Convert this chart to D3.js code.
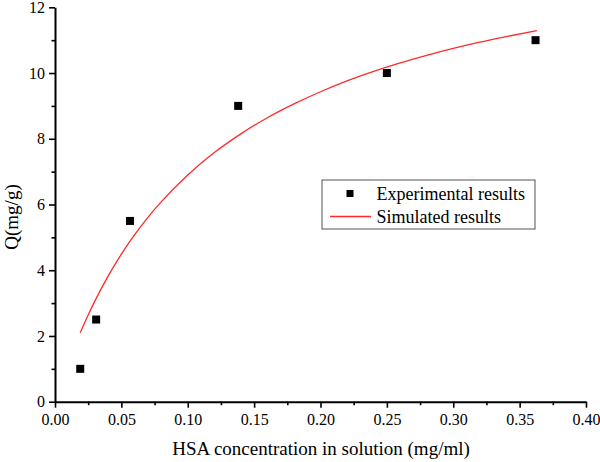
<!DOCTYPE html>
<html><head><meta charset="utf-8">
<script src="https://cdn.jsdelivr.net/npm/d3@7"></script>
<style>body{margin:0;background:#fff}svg{display:block}</style>
</head><body>
<svg id="c" width="600" height="462"></svg>
<script>
// Data
const expX = [0.019, 0.031, 0.0565, 0.138, 0.250, 0.362];
const expY = [1.0, 2.5, 5.5, 9.0, 10.0, 11.0];
const simX = [0.019, 0.025, 0.030, 0.040, 0.050, 0.060, 0.070, 0.080, 0.100, 0.120, 0.140, 0.160, 0.180, 0.200, 0.220, 0.240, 0.260, 0.280, 0.300, 0.320, 0.340, 0.363];
const simY = [2.10, 2.64, 3.06, 3.82, 4.49, 5.08, 5.61, 6.08, 6.90, 7.58, 8.15, 8.64, 9.06, 9.43, 9.76, 10.05, 10.31, 10.54, 10.75, 10.94, 11.11, 11.29];
const xTicks = [0, 0.05, 0.10, 0.15, 0.20, 0.25, 0.30, 0.35, 0.40];
const xMinor = [0.025, 0.075, 0.125, 0.175, 0.225, 0.275, 0.325, 0.375];
const yTicks = [0, 2, 4, 6, 8, 10, 12];
const yMinor = [1, 3, 5, 7, 9, 11];
const legendLabels = ["Experimental results", "Simulated results"];
const xTitle = "HSA concentration in solution (mg/ml)";
const yTitle = "Q(mg/g)";

const svg = d3.select("#c");
const font = "'Liberation Serif','Times New Roman',serif";
const L = 55, R = 586, T = 7.3, B = 401.7;
const x = d3.scaleLinear().domain([0, 0.40]).range([L, R]);
const y = d3.scaleLinear().domain([0, 12]).range([B, T]);

function styleAxis(g) {
  g.attr("font-family", null).attr("font-size", null);
  g.select(".domain").attr("stroke-width", 2).attr("stroke", "#000");
  g.selectAll(".tick line").attr("stroke-width", 1.6).attr("stroke", "#000");
  g.selectAll("text").style("font-family", font).style("font-size", "16px").attr("fill", "#000");
}

// x axis
const gx = svg.append("g").attr("transform", `translate(0,${B})`)
  .call(d3.axisBottom(x).tickValues(xTicks).tickFormat(d3.format(".2f")).tickSize(6).tickPadding(6).tickSizeOuter(0));
styleAxis(gx);
const gxm = svg.append("g").attr("transform", `translate(0,${B})`)
  .call(d3.axisBottom(x).tickValues(xMinor).tickFormat("").tickSize(3.5).tickSizeOuter(0));
gxm.select(".domain").remove();
gxm.selectAll(".tick line").attr("stroke-width", 1.6).attr("stroke", "#000");

// y axis
const gy = svg.append("g").attr("transform", `translate(${L},0)`)
  .call(d3.axisLeft(y).tickValues(yTicks).tickSize(6).tickPadding(4).tickSizeOuter(0));
styleAxis(gy);
const gym = svg.append("g").attr("transform", `translate(${L},0)`)
  .call(d3.axisLeft(y).tickValues(yMinor).tickFormat("").tickSize(3.5).tickSizeOuter(0));
gym.select(".domain").remove();
gym.selectAll(".tick line").attr("stroke-width", 1.6).attr("stroke", "#000");

// curve
const line = d3.line().x((d,i)=>x(simX[i])).y((d,i)=>y(simY[i])).curve(d3.curveMonotoneX);
svg.append("path").datum(simY).attr("d", line).attr("fill","none").attr("stroke","#ff2a2a").attr("stroke-width",1.3);

// points
const ms = 8;
svg.append("g").selectAll("rect").data(expY).join("rect")
  .attr("x",(d,i)=>x(expX[i])-ms/2).attr("y",d=>y(d)-ms/2)
  .attr("width",ms).attr("height",ms).attr("fill","#000");

// titles
svg.append("text").attr("x", 321).attr("y", 455).attr("text-anchor","middle")
  .style("font-family", font).style("font-size", "19px").text(xTitle);
svg.append("text").attr("transform","translate(18,217) rotate(-90)").attr("text-anchor","middle")
  .style("font-family", font).style("font-size", "19px").text(yTitle);

// legend
const lg = svg.append("g");
lg.append("rect").attr("x",322).attr("y",180).attr("width",213).attr("height",49)
  .attr("fill","#fff").attr("stroke","#555").attr("stroke-width",1);
lg.append("rect").attr("x",350-3.5).attr("y",193.5-3.5).attr("width",7).attr("height",7).attr("fill","#000");
lg.append("line").attr("x1",330).attr("x2",371).attr("y1",216.5).attr("y2",216.5).attr("stroke","#ff2a2a").attr("stroke-width",1.3);
lg.selectAll("text.lg").data(legendLabels).join("text").attr("class","lg")
  .attr("x",376.5).attr("y",(d,i)=>i===0?199.5:222.5)
  .style("font-family", font).style("font-size", "18px").text(d=>d);
</script>
</body></html>
